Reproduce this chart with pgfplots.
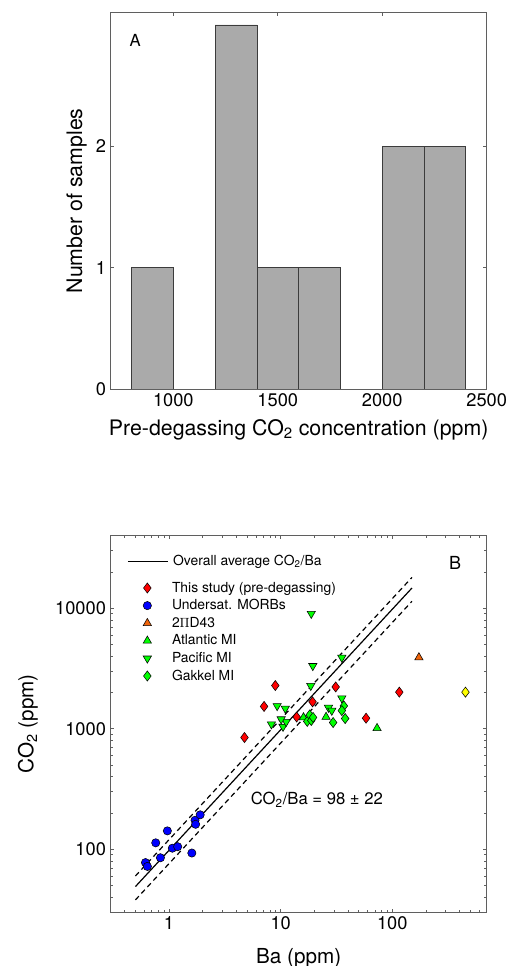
\documentclass[border=0pt]{standalone}
\usepackage{fontspec}
\setmainfont{TeX Gyre Heros}
\usepackage{pgfplots}
\pgfplotsset{compat=1.18}

\definecolor{framegray}{RGB}{95,95,95}
\definecolor{bargray}{RGB}{170,170,170}
\definecolor{baredge}{RGB}{60,60,60}
\definecolor{mlred}{RGB}{255,0,0}
\definecolor{mlblue}{RGB}{0,0,255}
\definecolor{mlgreen}{RGB}{0,255,0}
\definecolor{mlorange}{RGB}{240,100,10}
\definecolor{mlyellow}{RGB}{255,255,0}

\pgfplotsset{
  mlaxis/.style={scale only axis, width=282pt, anchor=south west,
    axis line style={framegray, line width=0.6pt},
    tick align=inside, major tick length=2.8pt, minor tick length=2pt,
    tick style={framegray, line width=0.5pt},
    tick label style={font=\fontsize{13.7}{16}\selectfont},
    /pgf/number format/assume math mode=true,
    /pgf/number format/1000 sep={}},
  % markers without a connecting line
  mk/.style={draw=none, mark options={draw=black, line width=0.4pt, fill=#1, solid}},
  bleg/.style={legend cell align=left,
    legend style={draw=none, fill=none, anchor=north west, row sep=0pt,
      font=\fontsize{10.4}{12}\selectfont,
      nodes={inner ysep=0pt, inner xsep=3.5pt, text height=9.6pt, text depth=3.6pt}}}
}

\begin{document}
\begin{tikzpicture}
\useasboundingbox (0,0) rectangle (381.75pt,724.5pt);

% panel A: histogram
\begin{axis}[mlaxis, height=282.2pt, at={(83pt,432.75pt)},
  xmin=700, xmax=2500, ymin=0, ymax=3.1,
  xtick={1000,1500,2000,2500}, ytick={0,1,2},
  xlabel={Pre-degassing CO\textsubscript{2} concentration (ppm)},
  ylabel={Number of samples},
  label style={font=\fontsize{16}{19}\selectfont},
  xlabel style={at={(axis description cs:0.5,-0.1223)}, anchor=base},
  ylabel style={at={(axis description cs:-0.076,0.5)}, anchor=base}]
\addplot[ybar, bar width=200, bar shift=0pt, fill=bargray, draw=baredge, line width=0.5pt]
  coordinates {(900,1) (1300,3) (1500,1) (1700,1) (2100,2) (2300,2)};
\node[font=\fontsize{12.5}{15}\selectfont] at (rel axis cs:0.065,0.926) {A};
\end{axis}

% panel B: frame, fit lines, first legend entry
\begin{axis}[mlaxis, height=282.5pt, at={(83pt,40.3pt)},
  xmode=log, ymode=log, xmin=0.3, xmax=700, ymin=30, ymax=40000,
  xtick={1,10,100}, xticklabels={1,10,100},
  ytick={100,1000,10000}, yticklabels={100,1000,10000},
  minor xtick={0.4,0.5,0.6,0.7,0.8,0.9,2,3,4,5,6,7,8,9,20,30,40,50,60,70,80,90,200,300,400,500,600},
  minor ytick={40,50,60,70,80,90,200,300,400,500,600,700,800,900,2000,3000,4000,5000,6000,7000,8000,9000,20000,30000},
  xlabel={Ba (ppm)}, ylabel={CO\textsubscript{2} (ppm)},
  label style={font=\fontsize{15.5}{18}\selectfont},
  xlabel style={at={(axis description cs:0.5,-0.1354)}, anchor=base},
  ylabel style={at={(axis description cs:-0.2053,0.5)}, anchor=base},
  bleg, legend style={at={(axis description cs:0.033,0.962)}},
  legend image code/.code={\draw[#1] (0pt,0pt) -- (30pt,0pt);}]
\addplot[black, line width=0.9pt] coordinates {(0.5,49) (150,14700)};
\addlegendentry{Overall average CO\textsubscript{2}/Ba}
\addplot[black, line width=0.9pt, dash pattern=on 3.8pt off 2.8pt, forget plot] coordinates {(0.5,60) (150,18000)};
\addplot[black, line width=0.9pt, dash pattern=on 3.8pt off 2.8pt, forget plot] coordinates {(0.5,38) (150,11400)};
\node[anchor=base west, font=\fontsize{12.5}{15}\selectfont] at (axis cs:4.9,233) {CO\textsubscript{2}/Ba = 98 ± 22};
\node[font=\fontsize{13.5}{16}\selectfont] at (rel axis cs:0.916,0.927) {B};
\end{axis}

% panel B: data markers and their legend
\begin{axis}[mlaxis, height=282.5pt, at={(83pt,40.3pt)}, hide axis,
  xmode=log, ymode=log, xmin=0.3, xmax=700, ymin=30, ymax=40000,
  bleg, legend style={at={(axis description cs:0.033,0.892)}},
  legend image code/.code={\path (0pt,0pt) (30pt,0pt);
    \draw[mark repeat=2,mark phase=2,#1,only marks] plot coordinates {(0pt,0pt) (15pt,0pt) (30pt,0pt)};}]
\addplot[mk=mlred, mark=diamond*, mark size=3.8pt] coordinates {
  (4.74,845) (7.1,1530) (8.95,2280) (13.9,1250) (19.3,1670) (31.1,2220) (58.2,1222) (115.5,2010)};
\addlegendentry{This study (pre-degassing)}
\addplot[mk=mlblue, mark=*, mark size=3.1pt] coordinates {
  (0.615,77.5) (0.64,72) (0.76,113) (0.837,85) (0.966,142) (1.07,102) (1.195,105)
  (1.60,93) (1.71,174) (1.73,161) (1.90,193)};
\addlegendentry{Undersat. MORBs}
\addplot[mk=mlorange, mark=triangle*, mark size=3.6pt] coordinates {(173,3900)};
\addlegendentry{2$\Pi$D43}
\addplot[mk=mlgreen, mark=triangle*, mark size=3.6pt] coordinates {(16,1240) (25.5,1250) (73,1009)};
\addlegendentry{Atlantic MI}
\addplot[mk=mlgreen, mark=triangle*, mark size=3.6pt, every mark/.append style={rotate=180}] coordinates {
  (18.8,9000) (19.4,3320) (35.3,3890) (18.6,2270) (35.3,1790) (9.3,1545) (11.0,1470)
  (8.26,1090) (10.5,1040) (11.2,1140) (10.1,1200) (26.8,1496) (28.7,1413)};
\addlegendentry{Pacific MI}
\addplot[mk=mlgreen, mark=diamond*, mark size=3.8pt] coordinates {
  (17.3,1150) (18.2,1300) (18.8,1170) (19.5,1240) (29.5,1125) (36.8,1545) (35.3,1413) (37.8,1214)};
\addlegendentry{Gakkel MI}
\addplot[mk=mlyellow, mark=diamond*, mark size=3.8pt, forget plot] coordinates {(452,2010)};
\end{axis}
\end{tikzpicture}
\end{document}
